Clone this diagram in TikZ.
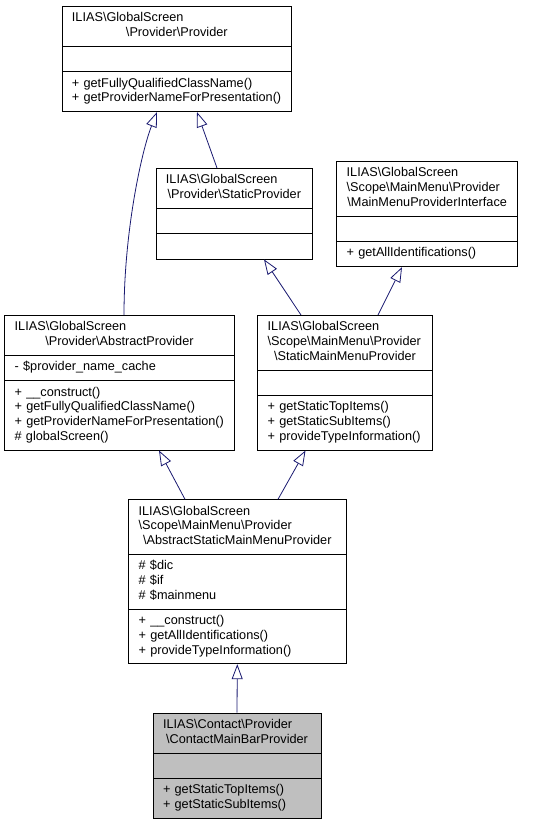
\documentclass[tikz,border=0pt]{standalone}
\usepackage{fontspec}
\setmainfont{Liberation Sans}
\usetikzlibrary{shapes.multipart,arrows.meta}
\definecolor{edgeblue}{RGB}{25,25,112}
\definecolor{boxgray}{RGB}{191,191,191}
\newcommand\bsl{\textbackslash}
\newcommand\lastline[1]{\makebox[\hsize]{#1}}
\begin{document}
\begin{tikzpicture}[x=1pt, y=-1pt,
    classbox/.style={rectangle split, rectangle split parts=3, draw, line width=0.8pt, anchor=north, align=left, inner xsep=10pt, inner ysep=4.9pt, font=\fontsize{12.7}{14.7}\selectfont, text width=#1},
    inherit/.style={draw=edgeblue, line width=0.8pt, -{Triangle[open, length=15pt, width=11pt, fill=white]}}]
  \useasboundingbox (0,0) rectangle (535,824);
  \node[classbox=209.7pt] (prov) at (176.8,6) {\strut ILIAS\bsl GlobalScreen\\\lastline{\bsl Provider\bsl Provider}\strut
    \nodepart{two}\strut
    \nodepart{three}\strut+ getFullyQualifiedClassName()\\+ getProviderNameForPresentation()\strut};
  \node[classbox=136.7pt] (stat) at (234.3,168) {\strut ILIAS\bsl GlobalScreen\\\lastline{\bsl Provider\bsl StaticProvider}\strut
    \nodepart{two}\strut
    \nodepart{three}\strut};
  \node[classbox=161pt] (mmpi) at (427.2,161) {\strut ILIAS\bsl GlobalScreen\\\bsl Scope\bsl MainMenu\bsl Provider\\\lastline{\bsl MainMenuProviderInterface}\strut
    \nodepart{two}\strut
    \nodepart{three}\strut+ getAllIdentifications()};
  \node[classbox=209.6pt] (absp) at (119.5,315) {\strut ILIAS\bsl GlobalScreen\\\lastline{\bsl Provider\bsl AbstractProvider}\strut
    \nodepart{two}\strut- \$provider\_name\_cache
    \nodepart{three}\strut+ \_\_construct()\\+ getFullyQualifiedClassName()\\+ getProviderNameForPresentation()\\\# globalScreen()\strut};
  \node[classbox=154.6pt] (smmp) at (345,315) {\strut ILIAS\bsl GlobalScreen\\\bsl Scope\bsl MainMenu\bsl Provider\\\lastline{\bsl StaticMainMenuProvider}\strut
    \nodepart{two}\strut
    \nodepart{three}\strut+ getStaticTopItems()\\+ getStaticSubItems()\\+ provideTypeInformation()\strut};
  \node[classbox=197.3pt] (asmmp) at (237.3,499.3) {\strut ILIAS\bsl GlobalScreen\\\bsl Scope\bsl MainMenu\bsl Provider\\\lastline{\bsl AbstractStaticMainMenuProvider}\strut
    \nodepart{two}\strut\# \$dic\\\# \$if\\\# \$mainmenu\strut
    \nodepart{three}\strut+ \_\_construct()\\+ getAllIdentifications()\\+ provideTypeInformation()\strut};
  \node[classbox=148pt, fill=boxgray] (cmbp) at (237,712.7) {\strut ILIAS\bsl Contact\bsl Provider\\\lastline{\bsl ContactMainBarProvider}\strut
    \nodepart{two}\strut
    \nodepart{three}\strut+ getStaticTopItems()\\+ getStaticSubItems()\strut};
  \draw[inherit] ([xshift=4.5pt]absp.north) .. controls (124,230) and (142,150) .. ([xshift=-19.8pt]prov.south);
  \foreach \src/\sx/\dst/\dx in {stat/-17.3/prov/20.2, smmp/-44/stat/29.7, smmp/33/mmpi/-25.2, asmmp/-52.3/absp/39.5, asmmp/40.7/smmp/-39.5, cmbp/0/asmmp/0}
    \draw[inherit] ([xshift=\sx pt]\src.north) -- ([xshift=\dx pt]\dst.south);
\end{tikzpicture}
\end{document}
